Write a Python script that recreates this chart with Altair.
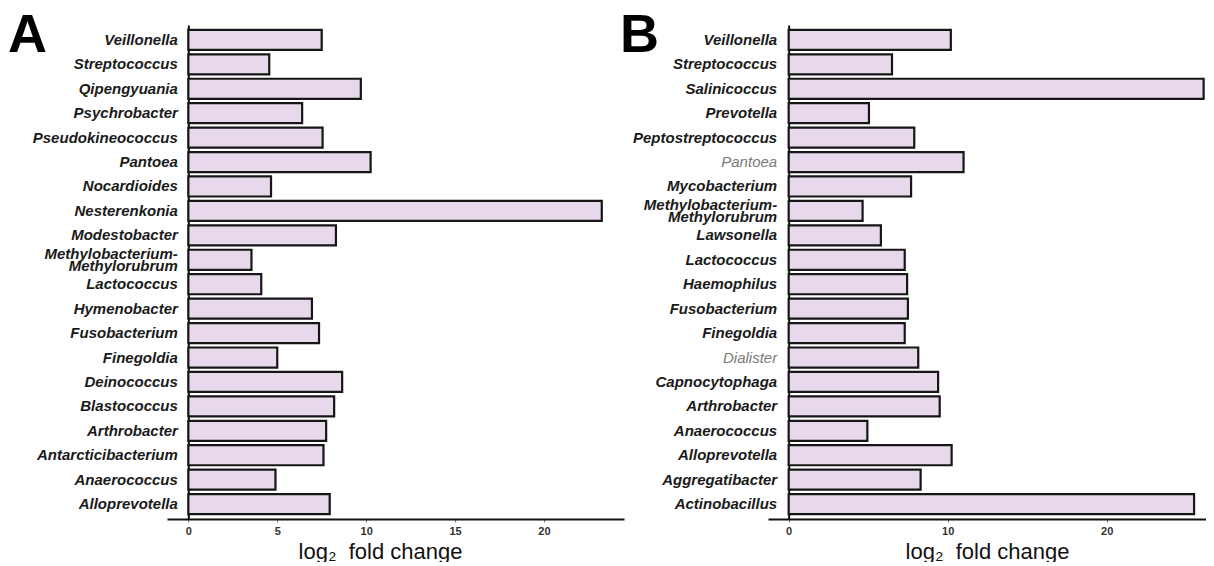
import altair as alt
import pandas as pd

# Panel A
genera_a = ["Veillonella", "Streptococcus", "Qipengyuania", "Psychrobacter",
            "Pseudokineococcus", "Pantoea", "Nocardioides", "Nesterenkonia",
            "Modestobacter", "Methylobacterium-Methylorubrum", "Lactococcus",
            "Hymenobacter", "Fusobacterium", "Finegoldia", "Deinococcus",
            "Blastococcus", "Arthrobacter", "Antarcticibacterium", "Anaerococcus",
            "Alloprevotella"]
values_a = [7.5, 4.55, 9.7, 6.4, 7.55, 10.25, 4.65, 23.25, 8.3, 3.55, 4.1,
            6.95, 7.35, 5.0, 8.65, 8.2, 7.75, 7.6, 4.9, 7.95]
ticks_a = [0, 5, 10, 15, 20]

# Panel B
genera_b = ["Veillonella", "Streptococcus", "Salinicoccus", "Prevotella",
            "Peptostreptococcus", "Pantoea", "Mycobacterium",
            "Methylobacterium-Methylorubrum", "Lawsonella", "Lactococcus",
            "Haemophilus", "Fusobacterium", "Finegoldia", "Dialister",
            "Capnocytophaga", "Arthrobacter", "Anaerococcus", "Alloprevotella",
            "Aggregatibacter", "Actinobacillus"]
values_b = [10.2, 6.5, 26.1, 5.05, 7.9, 11.0, 7.7, 4.65, 5.8, 7.3, 7.45, 7.5,
            7.3, 8.15, 9.4, 9.5, 4.95, 10.25, 8.3, 25.5]
ticks_b = [0, 10, 20]
gray_b = ["Pantoea", "Dialister"]

FONT = "Liberation Sans"
FILL = "#e8d8eb"
TITLE = "log\u2082\u00a0 fold change"
TWO_LINE = "Methylobacterium-Methylorubrum"
LABEL_EXPR = ("datum.value == '%s' ? "
              "['Methylobacterium-', 'Methylorubrum\u00a0\u00a0'] : datum.value" % TWO_LINE)


def panel(genera, values, ticks, xmin, xmax, width, label_pad, title_x,
          letter, letter_x, gray=None):
    df = pd.DataFrame({"genus": genera, "lfc": values})
    zero_px = (0 - xmin) / (xmax - xmin) * width
    if gray:
        test = " || ".join("datum.value == '%s'" % g for g in gray)
        label_color = {"condition": {"test": test, "value": "#7a7a7a"}, "value": "#1a1a1a"}
        label_weight = {"condition": {"test": test, "value": "normal"}, "value": "bold"}
    else:
        label_color = "#1a1a1a"
        label_weight = "bold"
    label_offset = {"condition": {"test": "datum.value == '%s'" % TWO_LINE,
                                  "value": -6}, "value": 0}
    bars = alt.Chart(df).mark_bar(
        fill=FILL, stroke="#161616", strokeWidth=2.2
    ).encode(
        x=alt.X("lfc:Q",
                scale=alt.Scale(domain=[xmin, xmax], nice=False, zero=False),
                axis=alt.Axis(values=ticks, title=TITLE, grid=False,
                              domainColor="#111", domainWidth=2,
                              tickColor="#777", tickSize=3, tickWidth=1,
                              labelFont=FONT, labelFontSize=11,
                              labelFontWeight="bold", labelColor="#333",
                              labelPadding=3,
                              titleFont=FONT, titleFontSize=22,
                              titleFontWeight="normal", titleColor="#111",
                              titleX=title_x, titleY=39,
                              titleBaseline="alphabetic", titleAlign="center")),
        x2=alt.datum(0),
        y=alt.Y("genus:N", sort=genera,
                scale=alt.Scale(paddingInner=0.18, paddingOuter=0.2),
                axis=alt.Axis(title=None, offset=-zero_px, ticks=False,
                              tickSize=0, domainColor="#111", domainWidth=2,
                              labelFont=FONT, labelFontSize=15,
                              labelFontStyle="italic",
                              labelFontWeight=label_weight,
                              labelColor=label_color,
                              labelOffset=label_offset,
                              labelPadding=label_pad, labelLimit=400,
                              labelLineHeight=12, labelExpr=LABEL_EXPR)),
    )
    let = alt.Chart(pd.DataFrame({"t": [letter]})).mark_text(
        align="left", baseline="top", fontSize=54, fontWeight="bold",
        font=FONT, color="#000"
    ).encode(text="t:N", x=alt.value(letter_x), y=alt.value(-16))
    return alt.layer(bars, let).properties(width=width, height=494)


pa = panel(genera_a, values_a, ticks_a, -1.2, 24.5, 457, 11, 213, "A", -159)
pb = panel(genera_b, values_b, ticks_b, -1.3, 26.25, 438, 12, 219, "B", -148,
           gray=gray_b)

chart = alt.hconcat(pa, pb, spacing=144, bounds="flush").properties(
    padding={"left": 0, "top": 1, "right": 0, "bottom": 0}
).configure_view(stroke=None)

chart.save("out.html", embed_options={"renderer": "svg", "actions": False})
